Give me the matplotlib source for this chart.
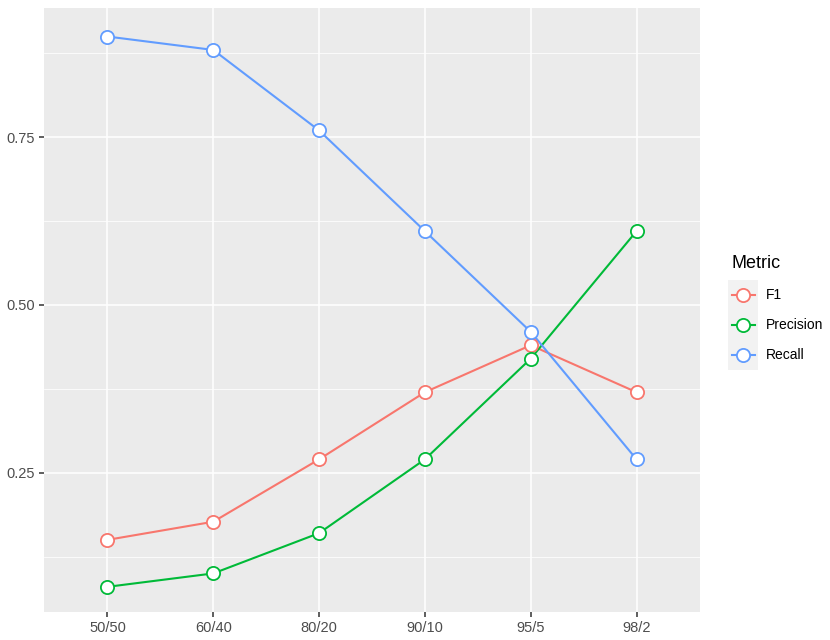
import matplotlib
matplotlib.use("Agg")
import matplotlib.pyplot as plt
from matplotlib.lines import Line2D
from matplotlib.patches import Rectangle

plt.rcParams["font.family"] = ["Liberation Sans", "DejaVu Sans"]

splits = ["50/50", "60/40", "80/20", "90/10", "95/5", "98/2"]
f1 = [0.15, 0.177, 0.27, 0.37, 0.44, 0.37]
precision = [0.08, 0.10, 0.16, 0.27, 0.42, 0.61]
recall = [0.90, 0.88, 0.76, 0.61, 0.46, 0.27]

metrics = ["F1", "Precision", "Recall"]
colors = ["#F8766D", "#00BA38", "#619CFF"]
series = [f1, precision, recall]

fig = plt.figure(figsize=(8.3, 6.4), dpi=100)
ax = fig.add_axes([44 / 830, 28 / 640, 656 / 830, 604 / 640])
ax.set_facecolor("#EBEBEB")
for s in ax.spines.values():
    s.set_visible(False)

x = list(range(1, len(splits) + 1))
for name, vals, c in zip(metrics, series, colors):
    ax.plot(x, vals, "-", color=c, lw=1.5, zorder=3)
    ax.plot(x, vals, "o", ms=9.5, mfc="white", mec=c, mew=1.3, zorder=4)

ax.set_xlim(0.4, 6.6)
ax.set_ylim(0.0425, 0.9425)
ax.set_xticks(x)
ax.set_xticklabels(splits)
ax.set_yticks([0.25, 0.5, 0.75])
ax.set_yticklabels(["0.25", "0.50", "0.75"])
ax.set_yticks([0.125, 0.375, 0.625, 0.875], minor=True)
ax.set_xticks([], minor=True)
ax.grid(True, which="major", color="white", lw=1.1, zorder=1)
ax.grid(True, which="minor", axis="y", color="white", lw=0.55, zorder=1)
ax.tick_params(which="major", length=3.5, width=1.1, color="#333333",
               labelsize=10.5, labelcolor="#4D4D4D", pad=3)
ax.tick_params(which="minor", length=0)
ax.set_axisbelow(True)

# grey key background, as ggplot draws it
fig.patches.append(Rectangle((728 / 830, 1 - 370 / 640), 30 / 830, 90 / 640,
                             transform=fig.transFigure, facecolor="#F2F2F2",
                             edgecolor="none", zorder=0))

handles = [Line2D([0], [0], color=c, lw=1.5, marker="o", ms=9.5, mfc="white",
                  mec=c, mew=1.3) for c in colors]
leg = fig.legend(handles, metrics, title="Metric", loc="upper left",
                 bbox_to_anchor=(719 / 830, 1 - 243 / 640), frameon=False,
                 fontsize=10, title_fontsize=13, handlelength=1.7,
                 labelspacing=1.15, handletextpad=0.8, alignment="left")

fig.savefig("out.png", dpi=100)
